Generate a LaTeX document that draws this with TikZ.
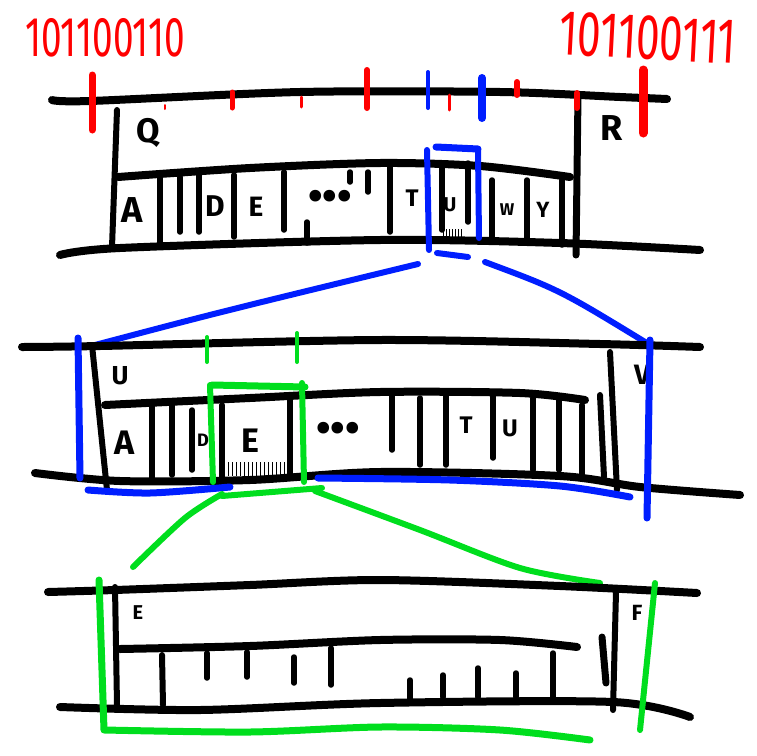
\documentclass[tikz,border=0pt]{standalone}
\usepackage{fontspec}
\setsansfont{Fira Sans}
\definecolor{MarcaRoja}{RGB}{255,0,0}
\definecolor{MarcaAzul}{RGB}{0,30,255}
\definecolor{MarcaVerde}{RGB}{0,222,30}
\newcommand{\tam}[1]{\fontsize{#1}{#1}\selectfont}
\tikzset{
    trazo/.style={line width=8pt, line cap=round, line join=round},
    raya/.style={line width=5.5pt, line cap=round},
    marca/.style={line cap=round, line join=round},
    letra/.style={font=\sffamily\bfseries, inner sep=0pt},
    binario/.style={font=\sffamily, text=MarcaRoja, inner sep=0pt}
}

\begin{document}
\begin{tikzpicture}[x=1pt, y=-1pt]

\useasboundingbox (0,0) rectangle (757,755);

% Direcciones en binario.
\node[binario] (dirA) at (105,38) {\tam{56}\scalebox{0.66}[1]{101100110}};
\node[binario, rotate=-3] (dirB) at (648,38) {\tam{64}\scalebox{0.66}[1]{101100111}};

% Nivel superior: lineas principales.
\draw[trazo] plot[smooth] coordinates {(52,100) (90,101) (300,92) (500,92) (620,97) (667,99)};
\draw[trazo] plot[smooth] coordinates {(118,177) (250,168) (380,163) (480,166) (570,177)};
\draw[trazo] plot[smooth] coordinates {(60,255) (120,248) (380,240) (560,243) (700,250)};
\draw[line width=6pt, line cap=round] (117,110) -- (112,247);
\draw[line width=7pt, line cap=round] (578,95) -- (576,255);

% Divisiones de las celdas.
\foreach \x/\a/\b in {160/177/243, 180/177/232, 199/175/232, 234/175/237, 284/172/230,
    390/163/232, 442/163/230, 468/163/222, 492/180/240, 527/180/240, 562/180/245,
    307/222/243, 350/172/182, 368/172/192}
    \draw[raya] (\x,\a) -- (\x,\b);
\foreach \x in {443,446,...,461}
    \draw[line width=0.8pt] (\x,229) -- (\x,238);

% Marcas sobre la linea superior.
\foreach \x/\a/\b/\w in {92/75/130/7, 165/105/109/2, 232/92/108/5, 301/97/107/3,
    367/70/108/6, 449/95/110/3, 517/82/95/6, 577/93/108/6, 643/70/133/9}
    \draw[marca, MarcaRoja, line width=\w pt] (\x,\a) -- (\x,\b);
\foreach \x/\a/\b/\w in {428/72/108/4, 482/78/118/8}
    \draw[marca, MarcaAzul, line width=\w pt] (\x,\a) -- (\x,\b);

% Etiquetas del nivel superior.
\node[letra] (Q) at (148,133) {\tam{34}Q};
\node[letra] (R) at (612,128) {\tam{36}R};
\node[letra] (A1) at (132,210) {\tam{36}A};
\node[letra] (D1) at (215,206) {\tam{30}D};
\node[letra] (E1) at (256,207) {\tam{28}E};
\node[letra] (P1) at (330,200) {\tam{42}•••};
\node[letra] (T1) at (412,198) {\tam{24}T};
\node[letra] (U1) at (450,205) {\tam{20}U};
\node[letra] (W1) at (507,210) {\tam{17}W};
\node[letra] (Y1) at (543,210) {\tam{22}Y};

% Resaltado azul y zoom.
\draw[marca, MarcaAzul, line width=6pt] (427,150) -- (429,250);
\draw[marca, MarcaAzul, line width=6pt] (478,150) -- (479,238);
\draw[marca, MarcaAzul, line width=7pt] (436,147) -- (478,149);
\draw[marca, MarcaAzul, line width=6pt] (437,253) -- (468,257);
\draw[marca, MarcaAzul, line width=6pt] (95,345) .. controls (220,312) .. (418,264);
\draw[marca, MarcaAzul, line width=6pt] (485,262) .. controls (560,290) .. (650,345);

% Nivel intermedio.
\draw[trazo] plot[smooth] coordinates {(22,347) (100,346) (380,340) (600,344) (700,347)};
\draw[trazo] plot[smooth] coordinates {(105,405) (250,398) (380,392) (520,393) (585,400)};
\draw[trazo] plot[smooth] coordinates {(35,473) (120,481) (250,480) (380,472) (560,476) (640,487) (740,495)};
\draw[line width=6pt, line cap=round] (92,345) -- (107,490);
\draw[line width=6pt, line cap=round] (610,352) -- (617,490);
\draw[line width=6pt, line cap=round] (600,395) -- (604,477);
\foreach \x/\a/\b in {152/405/478, 172/405/475, 192/410/470, 222/405/478, 290/400/475,
    392/392/450, 420/398/465, 446/392/465, 493/392/458, 533/398/470, 559/398/470, 582/405/475}
    \draw[raya] (\x,\a) -- (\x,\b);
\foreach \x in {228,232,...,288}
    \draw[line width=0.8pt] (\x,462) -- (\x,476);

% Etiquetas del nivel intermedio.
\node[letra] (U2) at (120,376) {\tam{26}U};
\node[letra] (V2) at (642,375) {\tam{28}V};
\node[letra] (A2) at (125,443) {\tam{34}A};
\node[letra] (D2) at (203,440) {\tam{18}D};
\node[letra] (E2) at (250,441) {\tam{34}E};
\node[letra] (P2) at (338,432) {\tam{42}•••};
\node[letra] (T2) at (466,425) {\tam{24}T};
\node[letra] (U3) at (510,428) {\tam{24}U};

% Marco azul del nivel intermedio.
\draw[marca, MarcaAzul, line width=7pt] (78,338) -- (80,478);
\draw[marca, MarcaAzul, line width=7pt] (650,340) -- (647,518);
\draw[marca, MarcaAzul, line width=7pt] plot[smooth] coordinates {(88,490) (150,493) (230,487)};
\draw[marca, MarcaAzul, line width=7pt] plot[smooth] coordinates {(318,478) (450,480) (560,486) (630,497)};

% Resaltado verde y zoom.
\draw[marca, MarcaVerde, line width=6pt] (210,385) -- (213,482);
\draw[marca, MarcaVerde, line width=6pt] (302,383) -- (304,482);
\draw[marca, MarcaVerde, line width=7pt] (212,385) -- (305,387);
\draw[marca, MarcaVerde, line width=4pt] (207,337) -- (207,362);
\draw[marca, MarcaVerde, line width=4pt] (297,333) -- (297,362);
\draw[marca, MarcaVerde, line width=6pt] (222,496) -- (322,488);
\draw[marca, MarcaVerde, line width=6pt] plot[smooth] coordinates {(222,494) (185,518) (133,567)};
\draw[marca, MarcaVerde, line width=6pt] plot[smooth] coordinates {(315,491) (420,530) (520,568) (600,583)};

% Nivel inferior.
\draw[trazo] plot[smooth] coordinates {(48,592) (115,590) (250,585) (380,580) (560,586) (697,593)};
\draw[trazo] plot[smooth] coordinates {(120,649) (250,646) (380,640) (500,640) (577,647)};
\draw[trazo] plot[smooth] coordinates {(60,707) (200,710) (380,703) (613,702) (690,717)};
\draw[line width=6pt, line cap=round] (115,587) -- (117,705);
\draw[line width=6pt, line cap=round] (616,592) -- (613,710);
\draw[line width=7pt, line cap=round] (602,637) -- (606,683);
\draw[line width=6pt, line cap=round] (162,655) -- (163,705);
\foreach \x/\a/\b in {207/653/678, 247/652/677, 294/657/683, 331/648/685,
    410/680/700, 443/675/697, 478/668/697, 516/673/697, 553/653/697}
    \draw[raya] (\x,\a) -- (\x,\b);

% Etiquetas del nivel inferior.
\node[letra] (E3) at (138,613) {\tam{20}E};
\node[letra] (F3) at (637,613) {\tam{22}F};

% Marco verde del nivel inferior.
\draw[marca, MarcaVerde, line width=7pt] (99,580) -- (104,730);
\draw[marca, MarcaVerde, line width=6pt] (655,583) -- (640,730);
\draw[marca, MarcaVerde, line width=7pt] plot[smooth] coordinates {(105,730) (250,732) (380,727) (500,730) (590,740)};

\end{tikzpicture}
\end{document}
